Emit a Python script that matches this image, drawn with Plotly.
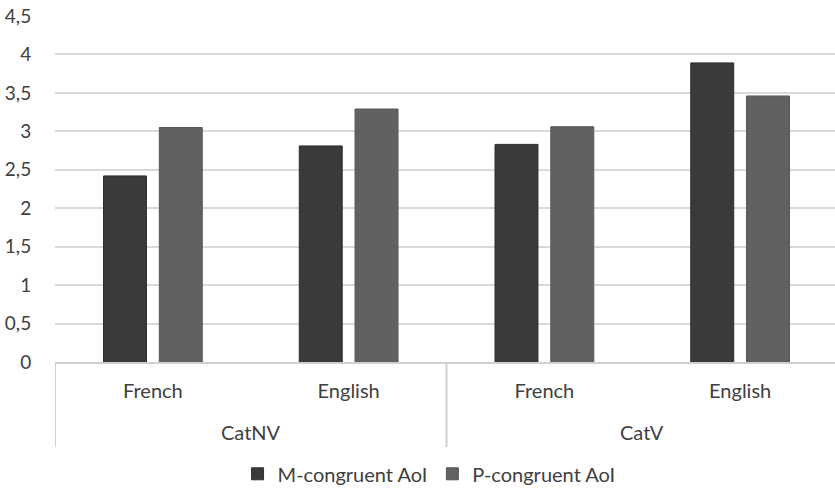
import plotly.graph_objects as go

groups = ["CatNV", "CatNV", "CatV", "CatV"]
languages = ["French", "English", "French", "English"]
m_congruent = [2.42, 2.81, 2.83, 3.89]
p_congruent = [3.05, 3.29, 3.06, 3.46]
y_ticks = [0, 0.5, 1, 1.5, 2, 2.5, 3, 3.5, 4, 4.5]

keys = [f"{g}|{l}" for g, l in zip(groups, languages)]
FONT = "Lato, Open Sans, sans-serif"
TXT = "#404040"
LINE = "#d0d0d0"

fig = go.Figure()
fig.add_trace(go.Bar(x=keys, y=m_congruent, name="M-congruent AoI",
                     marker=dict(color="#3a3a3a", line=dict(color="#2e2e2e", width=1))))
fig.add_trace(go.Bar(x=keys, y=p_congruent, name="P-congruent AoI",
                     marker=dict(color="#616161", line=dict(color="#575757", width=1))))

# group labels and dividers (computed from the group list)
plot_h = 346.0
uniq = []
for g in groups:
    if g not in uniq:
        uniq.append(g)
bounds = [-0.5]
for g in uniq:
    idx = [i for i, gg in enumerate(groups) if gg == g]
    center = sum(idx) / len(idx)
    fig.add_annotation(x=center, y=-70 / plot_h, xref="x", yref="paper", text=g,
                       showarrow=False, font=dict(family=FONT, size=20, color=TXT),
                       yanchor="middle")
    bounds.append(max(idx) + 0.5)
for b in bounds:
    fig.add_shape(type="line", xref="x", yref="paper", x0=b, x1=b, y0=0, y1=-85 / plot_h,
                  line=dict(color=LINE, width=2))

fig.update_layout(
    width=838, height=492,
    margin=dict(l=55, r=0, t=16, b=130),
    paper_bgcolor="white", plot_bgcolor="white",
    separators=",.",
    font=dict(family=FONT, size=20, color=TXT),
    barmode="group", bargap=0.43, bargroupgap=0.23,
    showlegend=True,
    legend=dict(orientation="h", xref="container", yref="container",
                x=0.512, xanchor="center", y=0.037, yanchor="middle",
                font=dict(size=20, color=TXT), itemwidth=30),
    xaxis=dict(type="category", showline=True, linecolor=LINE, linewidth=2,
               ticks="", range=[-0.5, 3.5], tickvals=keys, ticktext=languages,
               tickfont=dict(size=20, color=TXT), ticklabelstandoff=10),
    yaxis=dict(range=[0, 4.5], tickvals=y_ticks, showgrid=True, gridcolor="#d9d9d9",
               gridwidth=1.5, zeroline=False, ticks="outside", ticklen=19,
               tickcolor="rgba(0,0,0,0)", tickfont=dict(size=19, color=TXT),
               automargin=False),
)

fig.write_html("out.html", config={"displayModeBar": False},
               post_script="document.body.style.margin='0';document.body.style.overflow='hidden';")
